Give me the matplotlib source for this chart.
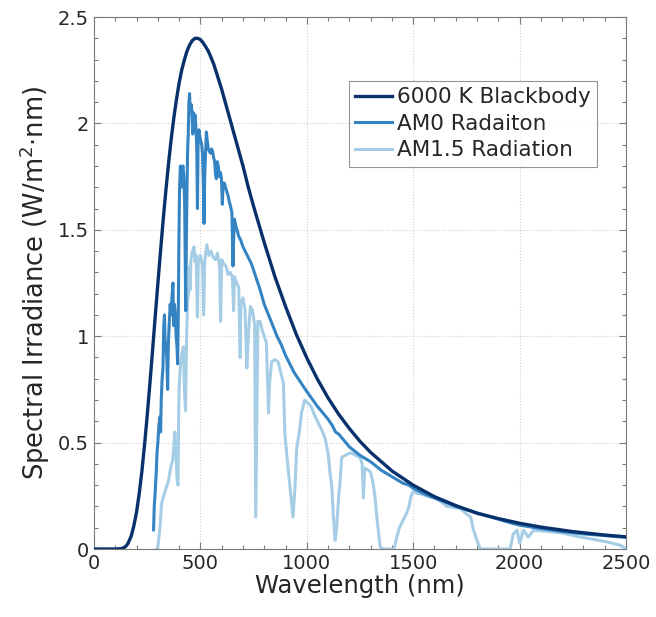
import numpy as np
import matplotlib
matplotlib.use("Agg")
import matplotlib.pyplot as plt
from matplotlib.ticker import MultipleLocator, FixedLocator

# 6000 K blackbody
bb_nm = [0, 100, 125, 140, 150, 160, 175, 187, 200, 212, 225, 237, 250, 262,
         275, 287, 300, 312, 325, 337, 350, 362, 375, 387, 400, 412, 425, 437,
         450, 462, 475, 487, 500, 512, 525, 537, 550, 562, 575, 600, 625, 650,
         675, 700, 725, 750, 775, 800, 850, 900, 950, 1000, 1050, 1100, 1150,
         1200, 1250, 1300, 1400, 1500, 1600, 1700, 1750, 1800, 1900, 2000, 2100,
         2250, 2400, 2500]
bb_val = [0, 0, 0.0014, 0.006, 0.013, 0.0265, 0.061, 0.108, 0.174, 0.257, 0.365,
          0.484, 0.627, 0.77, 0.931, 1.084, 1.247, 1.392, 1.547, 1.677, 1.81,
          1.92, 2.025, 2.11, 2.19, 2.25, 2.30, 2.34, 2.37, 2.39, 2.40, 2.40,
          2.394, 2.38, 2.36, 2.34, 2.31, 2.28, 2.24, 2.16, 2.07, 1.98, 1.89,
          1.80, 1.70, 1.61, 1.525, 1.44, 1.28, 1.14, 1.01, 0.898, 0.798, 0.71,
          0.633, 0.566, 0.506, 0.454, 0.367, 0.30, 0.246, 0.204, 0.186, 0.168,
          0.143, 0.121, 0.103, 0.0818, 0.0657, 0.0571]

# AM0 spectrum
am0_nm = [280, 283, 287, 292, 296, 300, 305, 309, 313, 316, 320, 324, 328, 331,
          334, 338, 342, 346, 349, 353, 358, 362, 366, 371, 374, 378, 382, 386,
          390, 393, 396, 399, 402, 406, 410, 414, 418, 422, 426, 429, 431, 434,
          437, 440, 443, 446, 449, 452, 456, 460, 464, 467, 471, 475, 479, 483,
          486, 489, 493, 497, 501, 506, 510, 514, 517, 520, 524, 528, 532, 537,
          542, 547, 552, 557, 562, 567, 571, 575, 579, 584, 589, 594, 599, 603,
          607, 612, 618, 624, 630, 636, 642, 648, 653, 656, 660, 666, 672, 680,
          690, 700, 720, 740, 760, 780, 800, 820, 840, 860, 880, 900, 920, 940,
          960, 980, 1000, 1050, 1100, 1120, 1135, 1150, 1200, 1250, 1300, 1350,
          1400, 1450, 1480, 1500, 1520, 1550, 1600, 1650, 1700, 1750, 1800,
          1850, 1900, 1950, 2000, 2100, 2200, 2300, 2400, 2500]
am0_val = [0.09, 0.2, 0.26, 0.35, 0.45, 0.5, 0.58, 0.62, 0.55, 0.7, 0.8, 0.85,
           1.05, 1.1, 0.98, 0.95, 0.9, 0.75, 0.95, 1.05, 1.15, 1.1, 1.18, 1.25,
           1.05, 1.15, 1.1, 1.0, 0.95, 0.87, 1.1, 1.45, 1.7, 1.8, 1.7, 1.78, 1.8,
           1.75, 1.62, 1.3, 1.12, 1.45, 1.7, 1.88, 1.95, 2.1, 2.14, 2.05, 2.09,
           2.06, 1.95, 2.05, 2.02, 2.04, 1.98, 1.88, 1.6, 1.9, 1.97, 1.94, 1.92,
           1.9, 1.86, 1.7, 1.53, 1.75, 1.86, 1.96, 1.92, 1.88, 1.87, 1.86, 1.88,
           1.87, 1.84, 1.82, 1.76, 1.74, 1.82, 1.80, 1.75, 1.77, 1.74, 1.62,
           1.72, 1.72, 1.70, 1.68, 1.66, 1.63, 1.61, 1.58, 1.33, 1.45, 1.55,
           1.52, 1.50, 1.47, 1.45, 1.42, 1.38, 1.34, 1.28, 1.22, 1.15, 1.10,
           1.05, 1.00, 0.96, 0.91, 0.87, 0.83, 0.80, 0.77, 0.74, 0.67, 0.61,
           0.58, 0.55, 0.54, 0.48, 0.44, 0.41, 0.37, 0.34, 0.31, 0.30, 0.285,
           0.275, 0.26, 0.24, 0.22, 0.20, 0.185, 0.17, 0.155, 0.14, 0.125,
           0.112, 0.096, 0.082, 0.071, 0.063, 0.055]

# AM1.5 spectrum
am15_nm = [295, 300, 310, 317, 330, 340, 350, 360, 370, 380, 385, 390, 395, 398,
           400, 405, 410, 420, 425, 430, 435, 440, 445, 450, 452, 455, 460, 470,
           475, 480, 486, 490, 500, 510, 515, 520, 530, 540, 550, 560, 570, 580,
           590, 595, 600, 610, 620, 630, 640, 650, 656, 660, 670, 680, 687, 690,
           700, 710, 718, 725, 735, 745, 755, 760, 765, 770, 780, 790, 800, 810,
           815, 820, 825, 835, 850, 865, 880, 890, 897, 910, 925, 935, 945, 952,
           965, 975, 990, 1000, 1020, 1040, 1055, 1070, 1086, 1100, 1110, 1117,
           1125, 1133, 1140, 1150, 1156, 1164, 1180, 1200, 1211, 1230, 1250,
           1260, 1266, 1272, 1290, 1300, 1311, 1320, 1329, 1340, 1345, 1360,
           1410, 1423, 1435, 1450, 1470, 1480, 1490, 1500, 1520, 1533, 1560,
           1594, 1620, 1658, 1690, 1721, 1750, 1770, 1783, 1800, 1815, 1955,
           1970, 1988, 2000, 2018, 2041, 2065, 2100, 2159, 2200, 2286, 2350,
           2412, 2475, 2500]
am15_val = [0.0, 0.01, 0.1, 0.21, 0.26, 0.29, 0.32, 0.38, 0.42, 0.55, 0.45,
            0.33, 0.30, 0.65, 0.75, 0.85, 0.9, 0.95, 0.75, 0.65, 1.0, 1.17, 1.2,
            1.33, 1.22, 1.35, 1.39, 1.42, 1.35, 1.38, 1.09, 1.35, 1.38, 1.33,
            1.1, 1.35, 1.43, 1.38, 1.40, 1.37, 1.36, 1.39, 1.33, 1.07, 1.36,
            1.34, 1.33, 1.29, 1.30, 1.28, 1.12, 1.28, 1.25, 1.23, 0.90, 1.15,
            1.18, 1.12, 0.85, 1.0, 1.14, 1.12, 1.05, 0.15, 0.6, 1.07, 1.07, 1.03,
            1.0, 0.97, 0.80, 0.64, 0.78, 0.88, 0.89, 0.88, 0.82, 0.78, 0.54,
            0.40, 0.25, 0.15, 0.30, 0.47, 0.55, 0.64, 0.70, 0.69, 0.67, 0.62,
            0.59, 0.56, 0.52, 0.45, 0.35, 0.30, 0.15, 0.04, 0.10, 0.25, 0.31,
            0.43, 0.44, 0.45, 0.45, 0.44, 0.43, 0.40, 0.24, 0.38, 0.37, 0.36,
            0.31, 0.25, 0.15, 0.05, 0.01, 0.0, 0.0, 0.056, 0.10, 0.13, 0.17,
            0.20, 0.25, 0.27, 0.26, 0.26, 0.25, 0.24, 0.23, 0.20, 0.195, 0.19,
            0.165, 0.15, 0.09, 0.04, 0.0, 0.0, 0.07, 0.088, 0.027, 0.088, 0.056,
            0.088, 0.085, 0.08, 0.075, 0.056, 0.045, 0.033, 0.017, 0.0]

fig = plt.figure(figsize=(6.56, 6.17), dpi=100)
ax = fig.add_axes([0.1433, 0.1102, 0.8110, 0.8622])

ax.plot(bb_nm, bb_val, color='#08306b', lw=2.4, label='6000 K Blackbody', zorder=3)
ax.plot(am0_nm, am0_val, color='#3484c3', lw=2.2, label='AM0 Radaiton', zorder=2)
ax.plot(am15_nm, am15_val, color='#a6cde6', lw=2.2, label='AM1.5 Radiation', zorder=1)

ax.set_xlim(0, 2500)
ax.set_ylim(0, 2.5)
ax.xaxis.set_major_locator(MultipleLocator(500))
ax.xaxis.set_minor_locator(MultipleLocator(100))
ax.yaxis.set_major_locator(FixedLocator([0, 0.5, 1, 1.5, 2, 2.5]))
ax.yaxis.set_minor_locator(MultipleLocator(0.1))
ax.set_yticklabels(['0', '0.5', '1', '1.5', '2', '2.5'])

ax.tick_params(which='both', direction='in', top=True, right=True,
               colors='#7a7a7a', labelcolor='#262626', labelsize=14)
ax.tick_params(which='major', length=5, width=0.8)
ax.tick_params(which='minor', length=3, width=0.8)
for s in ax.spines.values():
    s.set_color('#7a7a7a')
    s.set_linewidth(0.8)

ax.grid(True, which='major', linestyle=':', color='#d0d0d0', linewidth=0.8)
ax.set_axisbelow(True)

ax.set_xlabel('Wavelength (nm)', fontsize=17.5, color='#262626', labelpad=1)
ax.set_ylabel('Spectral Irradiance (W/m$^2$·nm)', fontsize=18.5, color='#262626', labelpad=4)

leg = ax.legend(loc='upper right', bbox_to_anchor=(0.946, 0.880), borderaxespad=0,
                fontsize=15.5, fancybox=False, frameon=True, handlelength=1.7,
                handletextpad=0.25, borderpad=0.3, labelspacing=0.3)
leg.get_frame().set_edgecolor('#7a7a7a')
leg.get_frame().set_linewidth(0.8)
for t in leg.get_texts():
    t.set_color('#262626')

fig.savefig('out.png', dpi=100)
